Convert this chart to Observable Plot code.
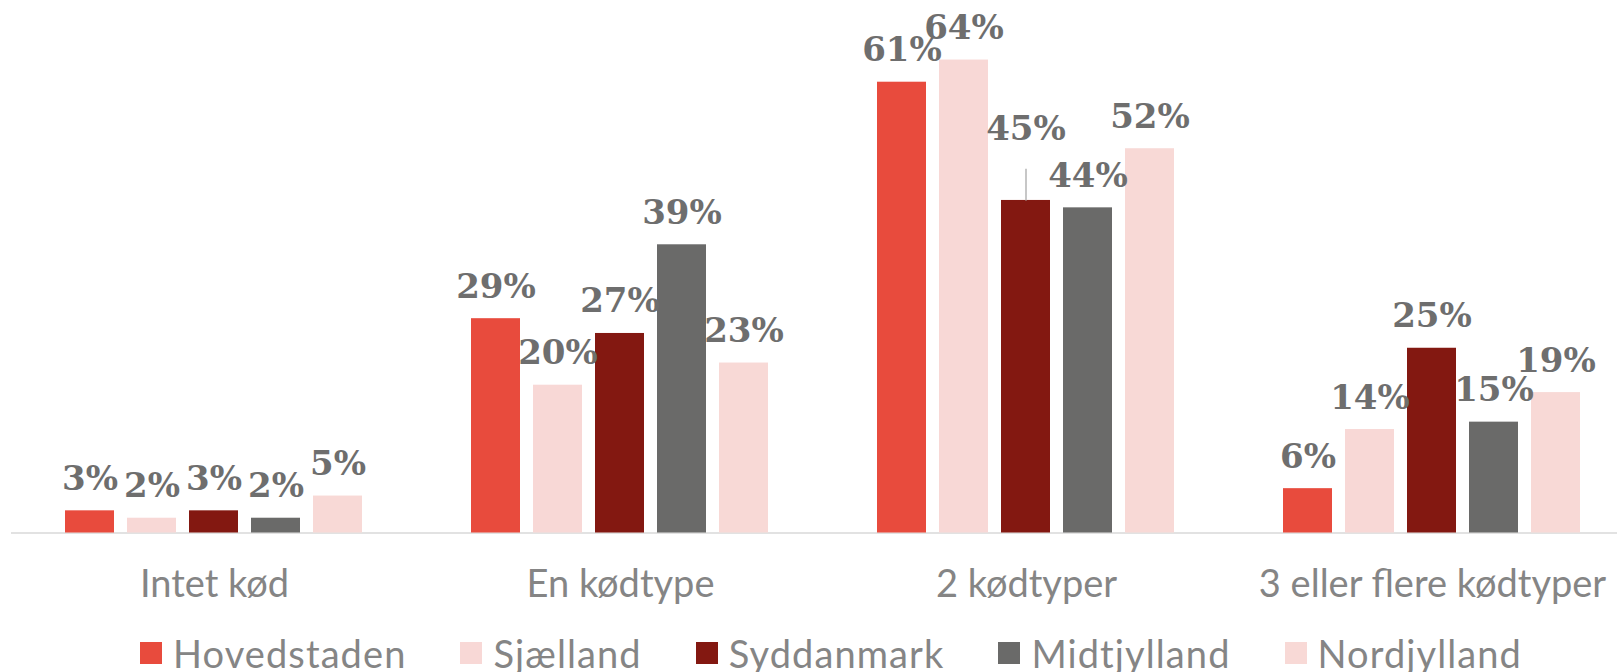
<!DOCTYPE html>
<html>
<head>
<meta charset="utf-8">
<script src="https://cdn.jsdelivr.net/npm/d3@7"></script>
<script src="https://cdn.jsdelivr.net/npm/@observablehq/plot@0.6"></script>
<style>
  html, body { margin: 0; padding: 0; background: #fff; width: 1617px; height: 672px; overflow: hidden; }
  #legend { display: flex; align-items: center; margin-left: 140px; padding-top: 14px; font-family: Lato, sans-serif; font-size: 38px; letter-spacing: 1.1px; color: #858585; }
  #legend .item { display: flex; align-items: center; margin-right: 54px; line-height: 38px; }
  #legend .sw { width: 22px; height: 22px; margin-right: 11px; }
</style>
</head>
<body>
<div id="chart"></div>
<div id="legend"></div>
<script>
const categories = ["Intet kød", "En kødtype", "2 kødtyper", "3 eller flere kødtyper"];
const regions = ["Hovedstaden", "Sjælland", "Syddanmark", "Midtjylland", "Nordjylland"];
const hovedstaden = [3, 29, 61, 6];
const sjaelland = [2, 20, 64, 14];
const syddanmark = [3, 27, 45, 25];
const midtjylland = [2, 39, 44, 15];
const nordjylland = [5, 23, 52, 19];
const colors = ["#E84B3D", "#F8D8D6", "#831811", "#6A6A69", "#F8D9D6"];
// label of Syddanmark in "2 kødtyper" is lifted (percentage points) with a leader line
const syddanmarkLabelLift = [0, 0, 5.3, 0];

const series = [hovedstaden, sjaelland, syddanmark, midtjylland, nordjylland];
const rows = [];
categories.forEach((c, ci) => {
  regions.forEach((r, ri) => {
    rows.push({
      category: c,
      region: r,
      value: series[ri][ci],
      lift: r === "Syddanmark" ? syddanmarkLabelLift[ci] : 0
    });
  });
});
const lifted = rows.filter(d => d.lift > 0);

const chart = Plot.plot({
  width: 1617,
  height: 620,
  marginTop: 15.2,
  marginBottom: 87.5,
  marginLeft: 10,
  marginRight: 0,
  style: { fontFamily: "Lato, sans-serif", background: "white", overflow: "visible" },
  fx: { domain: categories, range: [10, 1636.5], padding: 0 },
  x: { domain: regions, paddingInner: 0.207, paddingOuter: 0.86, axis: null },
  y: { domain: [0, 70], axis: null },
  color: { domain: regions, range: colors },
  marks: [
    Plot.ruleY([0], { stroke: "#e2e2e2", strokeWidth: 2 }),
    Plot.barY(rows, { fx: "category", x: "region", y: "value", fill: "region" }),
    Plot.link(lifted, { fx: "category", x1: "region", x2: "region", y1: "value", y2: d => d.value + d.lift - 1, stroke: "#b5b5b5", strokeWidth: 1.5 }),
    Plot.text(rows, {
      fx: "category", x: "region", y: d => d.value + d.lift,
      text: d => d.value + "%",
      lineAnchor: "bottom", dy: -21,
      fontFamily: "DejaVu Serif, serif", fontWeight: "bold", fontSize: 34,
      fill: "#6e6e6e"
    }),
    Plot.axisFx({ anchor: "bottom", tickSize: 0, tickPadding: 37.5, fontSize: 38, fill: "#858585", label: null })
  ]
});
document.getElementById("chart").appendChild(chart);

const legend = document.getElementById("legend");
regions.forEach((r, i) => {
  const item = document.createElement("div");
  item.className = "item";
  const sw = document.createElement("span");
  sw.className = "sw";
  sw.style.background = colors[i];
  const t = document.createElement("span");
  t.textContent = r;
  item.appendChild(sw);
  item.appendChild(t);
  legend.appendChild(item);
});
</script>
</body>
</html>
